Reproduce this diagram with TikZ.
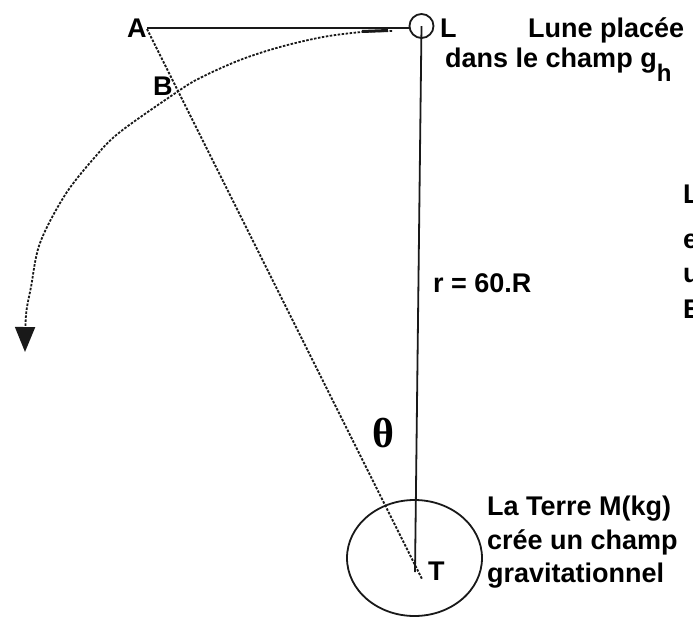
\documentclass[tikz,border=0pt]{standalone}
\usepackage{fontspec}
\setmainfont{Liberation Sans}
\newfontfamily\thetafont{Liberation Serif}
\usetikzlibrary{arrows.meta}
\begin{document}
\begin{tikzpicture}[x=1pt,y=-1pt,
  lbl/.style={anchor=base west,inner sep=0pt,font=\fontsize{27}{27}\selectfont\bfseries},
  solidline/.style={line width=1.8pt,black!90},
  dotline/.style={line width=1.8pt,black!90,dash pattern=on 2.5pt off 1.5pt},
  pt/.style={inner sep=0pt,minimum size=0pt}]
\useasboundingbox[fill=white] (0,0) rectangle (693,621);
% points
\coordinate (A) at (147,28);
\coordinate (Adot) at (147,29);
\node[pt] (Lc) at (421.5,26) {};
\coordinate (Lleft) at (409.5,28);
\coordinate (Tv) at (415,572);
\coordinate (Ts) at (422,579);
\coordinate (E) at (414.5,558);
% Earth
\draw[solidline] (E) ellipse [x radius=67.5, y radius=58];
% Moon
\draw[solidline] (Lc) circle [radius=12];
% lines
\draw[solidline] (A) -- (Lleft);
\draw[solidline] (Lc) -- (Tv);
\draw[dotline] (Adot) -- (Ts);
% trajectory arc
\draw[dotline,-{Triangle[length=25pt,width=20pt]}]
  plot[smooth,tension=0.55] coordinates {(392,31) (362,32) (323,37) (280,47) (240,60) (200,78) (177,92) (120,132) (95,157) (65,195) (40,243) (31,287) (26,315) (25,352)};
\draw[line width=3pt,black!90] (362,31.5) -- (388,30.5);
% labels
\node[lbl] (lA) at (127,37) {A};
\node[lbl] (lB) at (153,95) {B};
\node[lbl] (lL) at (440,37) {L};
\node[lbl] (lT) at (428,580) {T};
\node[lbl] (lune) at (528,37) {Lune placée};
\node[lbl] (champ) at (445,67) {dans le champ g\raisebox{-14pt}{\fontsize{24}{24}\selectfont h}};
\node[lbl] (r) at (433,292) {r = 60.R};
\node[anchor=base west,inner sep=0pt,font=\fontsize{42}{42}\selectfont\thetafont\bfseries] (th) at (372,447) {θ};
\node[lbl] (t1) at (487,515) {La Terre M(kg)};
\node[lbl] (t2) at (487,549) {crée un champ};
\node[lbl] (t3) at (487,582) {gravitationnel};
\node[lbl] (c1) at (683,203) {L};
\node[lbl] (c2) at (683,248) {e};
\node[lbl] (c3) at (683,282) {u};
\node[lbl] (c4) at (683,318) {E};
\end{tikzpicture}
\end{document}
